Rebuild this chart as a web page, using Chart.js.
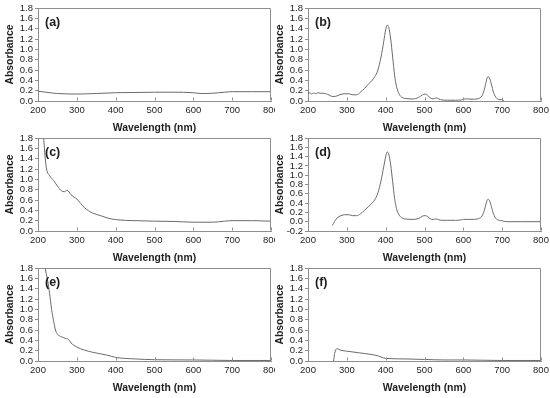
<!DOCTYPE html>
<html><head><meta charset="utf-8">
<script src="https://cdn.jsdelivr.net/npm/chart.js@4.4.1/dist/chart.umd.min.js"></script>
<style>
html,body{margin:0;padding:0;background:#fff;width:550px;height:398px;overflow:hidden;position:relative}
canvas{position:absolute}
</style></head><body>
<canvas id="pa" width="275" height="136" style="left:0;top:0"></canvas>
<canvas id="pb" width="280" height="136" style="left:270px;top:0"></canvas>
<canvas id="pc" width="275" height="136" style="left:0;top:130px"></canvas>
<canvas id="pd" width="280" height="136" style="left:270px;top:130px"></canvas>
<canvas id="pe" width="275" height="136" style="left:0;top:260px"></canvas>
<canvas id="pf" width="280" height="136" style="left:270px;top:260px"></canvas>
<script>
// ---- labels and ticks ----
const panelLabels = ['(a)', '(b)', '(c)', '(d)', '(e)', '(f)'];
const xTitle = 'Wavelength (nm)';
const yTitle = 'Absorbance';
const xTickValues = [200, 300, 400, 500, 600, 700, 800];
const yTickValues = [0.0, 0.2, 0.4, 0.6, 0.8, 1.0, 1.2, 1.4, 1.6, 1.8];
const yTickValuesD = [-0.2, 0.0, 0.2, 0.4, 0.6, 0.8, 1.0, 1.2, 1.4, 1.6, 1.8];

// ---- data (wavelength nm, absorbance) ----
const aWl  = [200, 220, 250, 300, 350, 400, 450, 500, 550, 600, 620, 650, 680, 700, 750, 800];
const aAbs = [0.19, 0.17, 0.145, 0.135, 0.145, 0.16, 0.165, 0.17, 0.17, 0.16, 0.145, 0.15, 0.17, 0.18, 0.18, 0.18];

const bWl  = [200, 205, 210, 215, 220, 225, 232, 240, 250, 258, 265, 275, 285, 295, 305, 315, 325, 335, 345, 355, 365, 372, 380, 388, 395, 400, 404, 408, 413, 418, 423, 428, 435, 442, 450, 470, 485, 495, 502, 508, 515, 522, 530, 537, 545, 560, 580, 595, 600, 610, 625, 640, 648, 654, 659, 663, 667, 672, 678, 685, 692, 698, 702, 705];
const bAbs = [0.14, 0.16, 0.13, 0.16, 0.14, 0.16, 0.15, 0.15, 0.13, 0.10, 0.085, 0.10, 0.13, 0.14, 0.14, 0.12, 0.12, 0.17, 0.24, 0.32, 0.40, 0.47, 0.60, 0.85, 1.15, 1.38, 1.47, 1.42, 1.20, 0.85, 0.50, 0.28, 0.13, 0.07, 0.05, 0.04, 0.07, 0.12, 0.135, 0.11, 0.06, 0.04, 0.06, 0.04, 0.02, 0.015, 0.015, 0.02, 0.035, 0.04, 0.035, 0.05, 0.10, 0.22, 0.38, 0.47, 0.45, 0.33, 0.16, 0.06, 0.03, 0.03, 0.01, 0.0];

const cWl  = [211, 215, 218, 222, 230, 240, 250, 260, 268, 275, 285, 300, 310, 320, 340, 360, 380, 400, 450, 500, 550, 600, 650, 680, 700, 750, 800];
const cAbs = [1.95, 1.75, 1.45, 1.20, 1.07, 0.98, 0.87, 0.78, 0.76, 0.79, 0.70, 0.62, 0.53, 0.45, 0.35, 0.30, 0.25, 0.22, 0.20, 0.19, 0.185, 0.17, 0.17, 0.19, 0.20, 0.20, 0.19];

const dWl  = [263, 268, 275, 285, 295, 305, 315, 325, 335, 345, 355, 365, 372, 380, 388, 395, 400, 404, 408, 413, 418, 423, 428, 435, 442, 450, 470, 485, 495, 502, 508, 515, 522, 530, 537, 545, 560, 580, 595, 600, 610, 625, 640, 648, 654, 659, 663, 667, 672, 678, 685, 692, 700, 710, 750, 800];
const dAbs = [-0.08, 0.0, 0.08, 0.13, 0.15, 0.15, 0.13, 0.13, 0.17, 0.24, 0.32, 0.40, 0.47, 0.62, 0.88, 1.18, 1.40, 1.50, 1.45, 1.22, 0.86, 0.50, 0.28, 0.14, 0.08, 0.06, 0.05, 0.07, 0.12, 0.13, 0.11, 0.06, 0.05, 0.06, 0.04, 0.03, 0.03, 0.03, 0.04, 0.05, 0.05, 0.05, 0.07, 0.12, 0.24, 0.40, 0.48, 0.46, 0.33, 0.16, 0.06, 0.03, 0.02, 0.0, 0.0, 0.0];

const eWl  = [217, 221, 225, 230, 235, 240, 245, 250, 260, 270, 278, 285, 300, 320, 340, 360, 380, 400, 450, 500, 600, 650, 700, 800];
const eAbs = [1.85, 1.70, 1.55, 1.30, 1.00, 0.78, 0.60, 0.52, 0.47, 0.44, 0.42, 0.35, 0.27, 0.21, 0.17, 0.14, 0.11, 0.07, 0.04, 0.025, 0.02, 0.015, 0.01, 0.01];

const fWl  = [266, 268, 271, 275, 280, 290, 300, 330, 360, 380, 400, 450, 500, 550, 600, 700, 800];
const fAbs = [0.0, 0.12, 0.21, 0.24, 0.22, 0.20, 0.19, 0.16, 0.13, 0.10, 0.05, 0.04, 0.03, 0.02, 0.02, 0.01, 0.01];

// ---- styling ----
const FONT = '"Liberation Sans", Arial, Helvetica, sans-serif';
const TEXT = '#1e1e1e';
const FRAME = '#8e8e8e';
const LINE = '#6a6a6a';

const framePlugin = {
  id: 'frame',
  afterDraw(chart, args, opts) {
    const { ctx, chartArea: a, scales } = chart;
    const x = scales.x;
    ctx.save();
    ctx.strokeStyle = FRAME;
    ctx.lineWidth = 1;
    ctx.beginPath();
    const L = Math.round(a.left) + 0.5, R = Math.round(a.right) - 0.5;
    const T = Math.round(a.top) + 0.5, B = Math.round(a.bottom) - 0.5;
    ctx.moveTo(L, T); ctx.lineTo(R, T); ctx.lineTo(R, B);
    x.ticks.forEach(t => {
      const px = Math.round(x.getPixelForValue(t.value)) + 0.5;
      ctx.moveTo(px, B); ctx.lineTo(px, B - 3);
    });
    ctx.stroke();
    ctx.fillStyle = TEXT;
    ctx.font = 'bold 12.5px ' + FONT;
    ctx.textBaseline = 'middle';
    ctx.textAlign = 'left';
    ctx.fillText(opts.label, a.left + 7, a.top + 15);
    ctx.restore();
  }
};

function makeChart(id, label, wl, abs, yTicks, padRight) {
  const points = wl.map((w, i) => ({ x: w, y: abs[i] }));
  return new Chart(document.getElementById(id), {
    type: 'line',
    data: { datasets: [{ data: points, borderColor: LINE, borderWidth: 1, pointRadius: 0, fill: false, cubicInterpolationMode: 'monotone' }] },
    options: {
      responsive: false,
      animation: false,
      devicePixelRatio: 1,
      layout: { padding: { left: 0, right: padRight, top: 8, bottom: 0 } },
      plugins: { legend: { display: false }, tooltip: { enabled: false }, frame: { label } },
      scales: {
        x: {
          type: 'linear',
          min: xTickValues[0], max: xTickValues[xTickValues.length - 1],
          afterBuildTicks: s => { s.ticks = xTickValues.map(v => ({ value: v })); },
          afterFit: s => { s.height = 35; s.paddingLeft = 0; s.paddingRight = 0; },
          grid: { drawOnChartArea: false, drawTicks: false },
          border: { display: true, color: FRAME, width: 1 },
          ticks: { color: TEXT, padding: 4, maxRotation: 0, autoSkip: false, font: { family: FONT, size: 9.5 }, callback: v => String(v) },
          title: { display: true, text: xTitle, color: TEXT, padding: { top: 0, bottom: 2 }, font: { family: FONT, size: 10.4, weight: 'bold' } }
        },
        y: {
          type: 'linear',
          min: yTicks[0], max: yTicks[yTicks.length - 1],
          afterBuildTicks: s => { s.ticks = yTicks.map(v => ({ value: v })); },
          afterFit: s => { s.width = 38; s.paddingTop = 0; s.paddingBottom = 0; },
          grid: { drawOnChartArea: false, drawTicks: true, tickLength: 3, color: FRAME },
          border: { display: true, color: FRAME, width: 1 },
          ticks: { color: TEXT, padding: 2, autoSkip: false, font: { family: FONT, size: 9.5 }, callback: v => Number(v).toFixed(1) },
          title: { display: true, text: yTitle, color: TEXT, padding: { top: 4, bottom: 0 }, font: { family: FONT, size: 10.4, weight: 'bold' } }
        }
      }
    },
    plugins: [framePlugin]
  });
}

makeChart('pa', panelLabels[0], aWl, aAbs, yTickValues, 4);
makeChart('pb', panelLabels[1], bWl, bAbs, yTickValues, 9);
makeChart('pc', panelLabels[2], cWl, cAbs, yTickValues, 4);
makeChart('pd', panelLabels[3], dWl, dAbs, yTickValuesD, 9);
makeChart('pe', panelLabels[4], eWl, eAbs, yTickValues, 4);
makeChart('pf', panelLabels[5], fWl, fAbs, yTickValues, 9);
</script>
</body></html>
